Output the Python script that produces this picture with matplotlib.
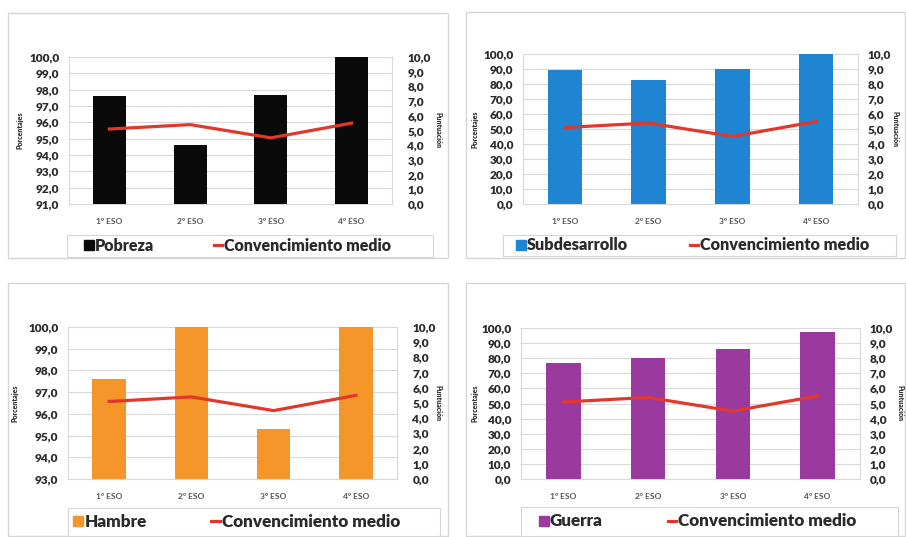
import matplotlib.pyplot as plt
from matplotlib.lines import Line2D
from matplotlib.patches import Rectangle
from matplotlib.ticker import FuncFormatter

W, H = 906, 537

cursos = ['1º ESO', '2º ESO', '3º ESO', '4º ESO']
convencimiento = [5.1, 5.4, 4.5, 5.5]

pobreza = [97.6, 94.6, 97.7, 100.0]
subdesarrollo = [89.1, 82.4, 90.0, 100.0]
hambre = [97.6, 100.0, 95.3, 100.0]
guerra = [76.8, 80.1, 86.3, 97.1]

FONT = ['Lato', 'DejaVu Sans']
WEIGHT = 'heavy'
RED = '#e2382b'
GRID = '#d9d9d9'


def fig_rect(x0, y0, x1, y1):
    return [x0 / W, 1 - y1 / H, (x1 - x0) / W, (y1 - y0) / H]


def coma(v, pos):
    return f'{v:.1f}'.replace('.', ',')


def panel(fig, name, values, color, ylim, ystep, plot, legbox, box, lab_l, lab_r, rpad,
          leg_x, leg_size):
    fig.patches.append(Rectangle((box[0] / W, 1 - box[3] / H), (box[2] - box[0]) / W,
                                 (box[3] - box[1]) / H, transform=fig.transFigure,
                                 facecolor='white', edgecolor='#d6d6d6', lw=1.0, zorder=0))
    ax = fig.add_axes(fig_rect(*plot))
    ax.set_zorder(1)
    x = range(len(cursos))
    ax.bar(x, values, width=0.41, color=color, zorder=3)
    ax.set_xlim(-0.5, len(cursos) - 0.5)
    ax.set_ylim(*ylim)
    n = int(round((ylim[1] - ylim[0]) / ystep))
    ax.set_yticks([ylim[0] + i * ystep for i in range(n + 1)])
    ax.yaxis.set_major_formatter(FuncFormatter(coma))
    ax.grid(axis='y', color=GRID, lw=0.8, zorder=0)
    ax.set_xticks(list(x))
    ax.set_xticklabels(cursos, fontsize=6, fontweight='bold', color='#555555', family=FONT)
    ax.tick_params(length=0)
    ax.tick_params(axis='y', pad=7)
    ax.tick_params(axis='x', pad=10)
    for lab in ax.get_yticklabels():
        lab.set_fontsize(8.5)
        lab.set_fontweight(WEIGHT)
        lab.set_family(FONT)
        lab.set_color('#2a2a2a')
    for s in ax.spines.values():
        s.set_color(GRID)
    ax.spines['top'].set_visible(False)

    ax2 = ax.twinx()
    ax2.plot(list(x), convencimiento, color=RED, lw=2.3, zorder=4)
    ax2.set_ylim(0, 10)
    ax2.set_yticks(range(11))
    ax2.yaxis.set_major_formatter(FuncFormatter(coma))
    ax2.tick_params(length=0, pad=rpad)
    for lab in ax2.get_yticklabels():
        lab.set_fontsize(8.5)
        lab.set_fontweight(WEIGHT)
        lab.set_family(FONT)
        lab.set_color('#2a2a2a')
    for s in ax2.spines.values():
        s.set_visible(False)

    yc = 1 - (plot[1] + plot[3]) / 2 / H
    fig.text(lab_l / W, yc, 'Porcentajes', rotation=90, fontsize=5, fontweight=WEIGHT,
             family=FONT, ha='center', va='center', color='#333333')
    fig.text(lab_r / W, yc, 'Puntuación', rotation=270, fontsize=5, fontweight=WEIGHT,
             family=FONT, ha='center', va='center', color='#333333')

    fig.patches.append(Rectangle((legbox[0] / W, 1 - legbox[3] / H), (legbox[2] - legbox[0]) / W,
                                 (legbox[3] - legbox[1]) / H, transform=fig.transFigure,
                                 facecolor='white', edgecolor='#d6d6d6', lw=0.8, zorder=0))
    handles = [Line2D([], [], marker='s', ls='none', color=color, markersize=6.5),
               Line2D([], [], color=RED, lw=2.3)]
    fig.legend(handles, [name, 'Convencimiento medio'], ncol=2, frameon=False,
               loc='center', bbox_to_anchor=(leg_x / W, 1 - (legbox[1] + legbox[3]) / 2 / H),
               prop={'family': FONT, 'weight': WEIGHT, 'size': leg_size},
               handlelength=0.5, handletextpad=0.1, columnspacing=3.8,
               labelcolor='#2a2a2a')


fig = plt.figure(figsize=(W / 100, H / 100), dpi=100)
fig.patch.set_facecolor('white')

panel(fig, 'Pobreza', pobreza, '#0a0a0a', (91, 100), 1,
      (69, 57, 392, 204), (67, 235, 433, 257), (8, 13, 448, 258), 20, 438, 11, 238, 11.5)
panel(fig, 'Subdesarrollo', subdesarrollo, '#1f84d2', (0, 100), 10,
      (523, 54, 858, 204), (503, 235, 896, 256), (466, 12, 905, 258), 475, 895, 7, 693, 11.7)
panel(fig, 'Hambre', hambre, '#f5962a', (93, 100), 1,
      (68, 327, 397, 479), (68, 508, 440, 536), (8, 283, 448, 536), 15, 438, 11, 237, 12.3)
panel(fig, 'Guerra', guerra, '#9b3a9e', (0, 100), 10,
      (521, 328, 860, 479), (521, 507, 898, 536), (466, 283, 905, 536), 475, 900, 7, 698, 12.3)

fig.savefig('out.png', dpi=100)
